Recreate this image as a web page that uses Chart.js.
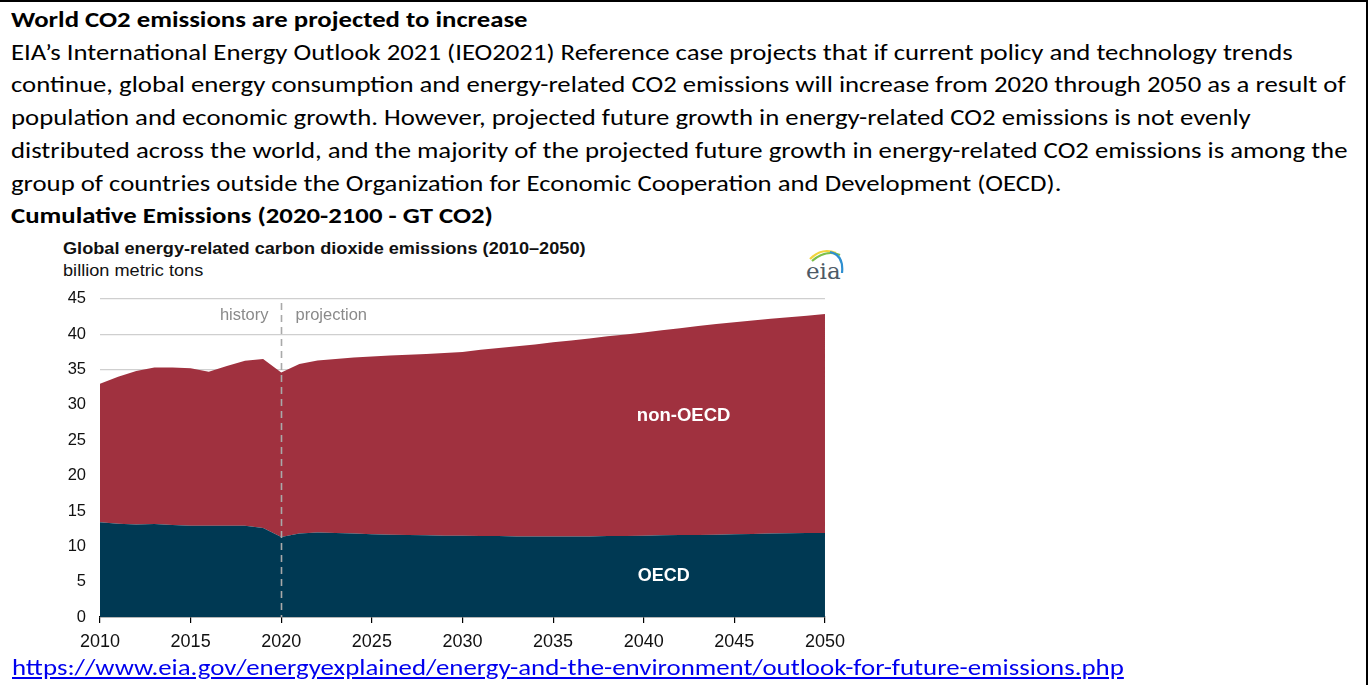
<!DOCTYPE html>
<html>
<head>
<meta charset="utf-8">
<script src="https://cdn.jsdelivr.net/npm/chart.js@4.4.1/dist/chart.umd.min.js"></script>
<style>
  html, body { margin: 0; padding: 0; background: #fff; }
  body { width: 1371px; height: 685px; position: relative; overflow: hidden; }
  .frame {
    position: absolute; left: -2px; top: 0; width: 1368px; height: 700px;
    border-top: 2px solid #000; border-right: 2px solid #000;
  }
  .intro {
    position: absolute; left: 11px; top: 3px;
    font-family: Carlito, Lato, "Open Sans", sans-serif; font-size: 23px; color: #000;
    line-height: 32.7px; white-space: nowrap;
    transform: scaleX(1.163); transform-origin: 0 0;
  }
  .intro b { font-weight: 700; }
  .source {
    position: absolute; left: 12px; top: 653px;
    font-family: Carlito, Lato, "Open Sans", sans-serif; font-size: 23px;
    color: #0000ee; text-decoration: underline; white-space: nowrap;
    transform: scaleX(1.168); transform-origin: 0 0;
  }
  .chart-title {
    position: absolute; left: 63px; top: 237px;
    font-family: "Liberation Sans", Arial, sans-serif; font-size: 16.5px; color: #111;
    line-height: 22px; white-space: nowrap;
    transform: scaleX(1.1); transform-origin: 0 0;
  }
  .chart-title b { font-weight: 700; }
  #logo { position: absolute; left: 800px; top: 243px; }
  #box { position: absolute; left: 50px; top: 275px; width: 803px; height: 385px; }
</style>
</head>
<body>
<div class="frame"></div>

<div class="intro">
  <b>World CO2 emissions are projected to increase</b><br>
  EIA’s International Energy Outlook 2021 (IEO2021) Reference case projects that if current policy and technology trends<br>
  continue, global energy consumption and energy-related CO2 emissions will increase from 2020 through 2050 as a result of<br>
  population and economic growth. However, projected future growth in energy-related CO2 emissions is not evenly<br>
  distributed across the world, and the majority of the projected future growth in energy-related CO2 emissions is among the<br>
  group of countries outside the Organization for Economic Cooperation and Development (OECD).<br>
  <b>Cumulative Emissions (2020-2100 - GT CO2)</b>
</div>

<div class="chart-title">
  <b>Global energy-related carbon dioxide emissions (2010–2050)</b><br>
  billion metric tons
</div>

<svg id="logo" width="50" height="42" viewBox="0 0 50 42">
  <path d="M10 16 Q22 4 36 10" fill="none" stroke="#f2d43c" stroke-width="2.2"/>
  <path d="M12 18 Q26 6 40 12" fill="none" stroke="#7cc04a" stroke-width="2.2"/>
  <path d="M30 9 Q44 12 42 30" fill="none" stroke="#2f8fd0" stroke-width="2.2"/>
  <text x="6" y="36" font-family="'DejaVu Serif', 'Liberation Serif', serif" font-size="23" fill="#4d5a66">eia</text>
</svg>

<div id="box"><canvas id="co2Chart"></canvas></div>

<a class="source" href="https://www.eia.gov/energyexplained/energy-and-the-environment/outlook-for-future-emissions.php">https://www.eia.gov/energyexplained/energy-and-the-environment/outlook-for-future-emissions.php</a>

<script>
// years on the x axis, 2010 through 2050
const years = [];
for (let y = 2010; y <= 2050; y++) years.push(String(y));

// billion metric tons, OECD countries
const oecd = [
  13.4, 13.2, 13.1, 13.15, 13.0, 12.9, 12.9, 12.9, 12.9, 12.6,
  11.3, 11.8, 11.95, 11.9, 11.8, 11.7, 11.65, 11.6, 11.55, 11.5,
  11.5, 11.45, 11.45, 11.4, 11.4, 11.4, 11.4, 11.4, 11.45, 11.45,
  11.5, 11.55, 11.6, 11.6, 11.65, 11.7, 11.75, 11.8, 11.85, 11.9,
  11.9
];

// billion metric tons, non-OECD countries (stacked on top of OECD)
const nonOecd = [
  19.6, 20.8, 21.7, 22.15, 22.3, 22.3, 21.8, 22.6, 23.35, 23.9,
  23.3, 24.0, 24.35, 24.6, 24.9, 25.15, 25.35, 25.5, 25.65, 25.85,
  26.0, 26.35, 26.6, 26.9, 27.15, 27.45, 27.7, 28.0, 28.25, 28.5,
  28.75, 29.0, 29.25, 29.55, 29.8, 30.0, 30.2, 30.4, 30.55, 30.7,
  30.95
];

const yTicks = [0, 5, 10, 15, 20, 25, 30, 35, 40, 45];
const splitYear = '2020';

const fontFamily = '"Liberation Sans", Arial, sans-serif';

// dashed history/projection divider plus the area labels
const annotations = {
  id: 'annotations',
  afterDatasetsDraw(chart) {
    const ctx = chart.ctx;
    const x = chart.scales.x;
    const y = chart.scales.y;
    const area = chart.chartArea;
    const splitX = Math.round(x.getPixelForValue(years.indexOf(splitYear))) + 0.5;

    ctx.save();
    ctx.strokeStyle = '#a9a9a9';
    ctx.lineWidth = 1.6;
    ctx.setLineDash([7, 5]);
    ctx.beginPath();
    ctx.moveTo(splitX, area.top + 4);
    ctx.lineTo(splitX, area.bottom);
    ctx.stroke();
    ctx.setLineDash([]);

    ctx.font = '16.5px ' + fontFamily;
    ctx.fillStyle = '#8a8a8a';
    ctx.textBaseline = 'middle';
    ctx.textAlign = 'right';
    ctx.fillText('history', splitX - 13, area.top + 17);
    ctx.textAlign = 'left';
    ctx.fillText('projection', splitX + 14, area.top + 17);

    ctx.font = 'bold 18.5px ' + fontFamily;
    ctx.fillStyle = '#ffffff';
    ctx.textAlign = 'center';
    ctx.fillText('non-OECD', x.getPixelForValue(32.2), y.getPixelForValue(28.4));
    ctx.font = 'bold 18px ' + fontFamily;
    ctx.fillText('OECD', x.getPixelForValue(31.1), y.getPixelForValue(5.8));
    ctx.restore();
  }
};

const ctx = document.getElementById('co2Chart').getContext('2d');
const co2Chart = new Chart(ctx, {
  type: 'line',
  data: {
    labels: years,
    datasets: [
      {
        label: 'OECD',
        data: oecd,
        backgroundColor: '#003953',
        borderColor: '#003953',
        borderWidth: 0,
        pointRadius: 0,
        fill: 'origin'
      },
      {
        label: 'non-OECD',
        data: nonOecd,
        backgroundColor: '#a0313f',
        borderColor: '#a0313f',
        borderWidth: 0,
        pointRadius: 0,
        fill: '-1'
      }
    ]
  },
  options: {
    responsive: true,
    maintainAspectRatio: false,
    animation: false,
    layout: { padding: { top: 5, right: 22, left: 0, bottom: 0 } },
    plugins: {
      legend: { display: false },
      tooltip: { enabled: false }
    },
    scales: {
      x: {
        offset: false,
        border: { display: true, color: '#000', width: 1.2 },
        grid: {
          drawOnChartArea: false,
          drawTicks: true,
          tickLength: 6,
          color: '#000',
          lineWidth: 1.2
        },
        ticks: {
          autoSkip: false,
          maxRotation: 0,
          color: '#111',
          font: { family: fontFamily, size: 18 },
          padding: 8,
          callback: function(value, index) {
            const label = years[index];
            return Number(label) % 5 === 0 ? label : null;
          }
        },
        afterFit: function(scale) { scale.height = 43; }
      },
      y: {
        stacked: true,
        min: 0,
        max: 45,
        border: { display: false },
        grid: { color: '#cfcfcf', lineWidth: 1.3, drawTicks: false },
        afterBuildTicks: function(scale) {
          scale.ticks = yTicks.map(v => ({ value: v }));
        },
        ticks: {
          color: '#111',
          font: { family: fontFamily, size: 16.5 },
          padding: 14
        },
        afterFit: function(scale) { scale.width = 50; }
      }
    }
  },
  plugins: [annotations]
});
</script>
</body>
</html>
